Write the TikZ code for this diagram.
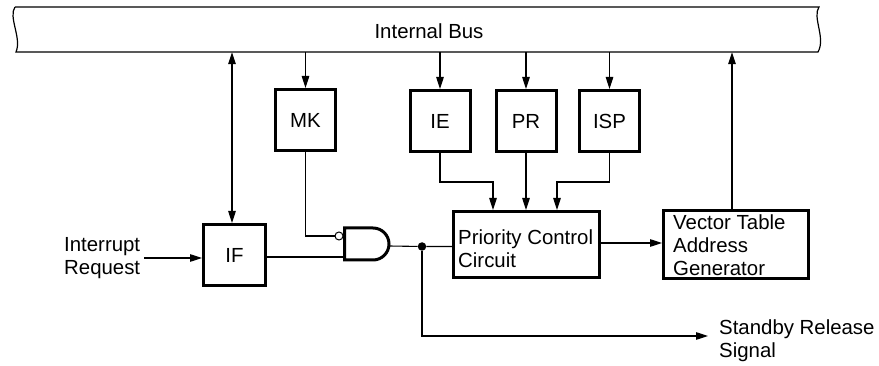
\documentclass[tikz,border=0pt]{standalone}
\usepackage{fontspec}
\setmainfont{Liberation Sans}
\usetikzlibrary{arrows.meta}
\begin{document}
\begin{tikzpicture}[x=1pt,y=-1pt,
  blk/.style={draw, line width=3pt, inner sep=0pt, minimum width=#1},
  blk/.default=60pt,
  conn/.style={line width=1.1pt},
  arr/.style={conn, -{Triangle[length=12pt,width=7.5pt]}},
  barr/.style={conn, {Triangle[length=12pt,width=7.5pt]}-{Triangle[length=12pt,width=7.5pt]}},
  txt/.style={font=\fontsize{20.4}{23}\selectfont, inner sep=0pt},
  mtxt/.style={txt, align=left}
]
\useasboundingbox (0,0) rectangle (879,366);

% internal bus
\node[minimum width=804pt, minimum height=45pt, inner sep=0pt] (bus) at (417,29.5) {};
\draw[line width=1.2pt] (15,7) -- (819,7)
  .. controls (812,17) and (826,38) .. (818,52) -- (16,52)
  .. controls (22,38) and (8,17) .. (15,7);
\node[txt] (buslbl) at (429,31) {Internal Bus};

% register boxes
\node[blk, minimum height=61pt, txt] (MK) at (305.5,120) {MK};
\node[blk, minimum height=61pt, txt] (IE) at (440,121) {IE};
\node[blk, minimum height=61pt, txt] (PR) at (526,121) {PR};
\node[blk, minimum height=61pt, txt] (ISP) at (609.5,121) {ISP};
\node[blk=62pt, minimum height=61pt, txt] (IF) at (234.5,255) {IF};

% priority control circuit and vector generator
\node[blk=146pt, minimum height=66pt] (PCC) at (526.5,244.5) {};
\node[mtxt, anchor=west] (pcctxt) at (458,248.5) {Priority Control\\Circuit};
\node[blk=145pt, minimum height=68pt] (VTA) at (736,244.5) {};
\node[mtxt, anchor=west] (vtatxt) at (673,245) {Vector Table\\Address\\Generator};

% labels
\node[mtxt, anchor=west] (irq) at (64,258.5) {Interrupt\\Request};
\coordinate (irqend) at (144,258);
\node[mtxt, anchor=west] (sby) at (719,341) {Standby Release\\Signal};
\coordinate (sbyend) at (708,336);

% AND gate with inverted input
\draw[line width=3pt] (373,228) -- (344.5,228) -- (344.5,260) -- (373,260)
  arc[start angle=-90, end angle=90, radius=16pt];
\coordinate (gin1) at (335,236);
\coordinate (gin2) at (344.5,257);
\coordinate (gout) at (389,246);
\node[draw, circle, line width=1pt, minimum size=8pt, inner sep=0pt] (bub) at (339,236) {};
\node[fill, circle, minimum size=8.5pt, inner sep=0pt] (dot) at (422,246.5) {};

% connectors from bus
\draw[arr] (MK.north |- bus.south) -- (MK.north);
\draw[arr] (IE.north |- bus.south) -- (IE.north);
\draw[arr] (PR.north |- bus.south) -- (PR.north);
\draw[arr] (ISP.north |- bus.south) -- (ISP.north);
\draw[barr] ([xshift=-2.5pt]IF.north |- bus.south) -- ([xshift=-2.5pt]IF.north);
\draw[arr] ([xshift=-4pt]VTA.north) -- ([xshift=-4pt]VTA.north |- bus.south);

% into priority control
\draw[arr] (IE.south) |- (493,182) -- (493,210);
\draw[arr] (PR.south) -- (PR.south |- PCC.north);
\draw[arr] (ISP.south) |- (557,182) -- (557,210);

% gate wiring
\draw[conn] (MK.south) |- (bub.west);
\draw[conn] (IF.east |- gin2) -- (gin2);
\draw[conn] (gout) -- (dot) -- (dot -| PCC.west);
\draw[arr] (dot) |- (sbyend);
\draw[arr] (irqend) -- (irqend -| IF.west);
\draw[arr] (PCC.east |- 0,243) -- (VTA.west |- 0,243);
\end{tikzpicture}
\end{document}
